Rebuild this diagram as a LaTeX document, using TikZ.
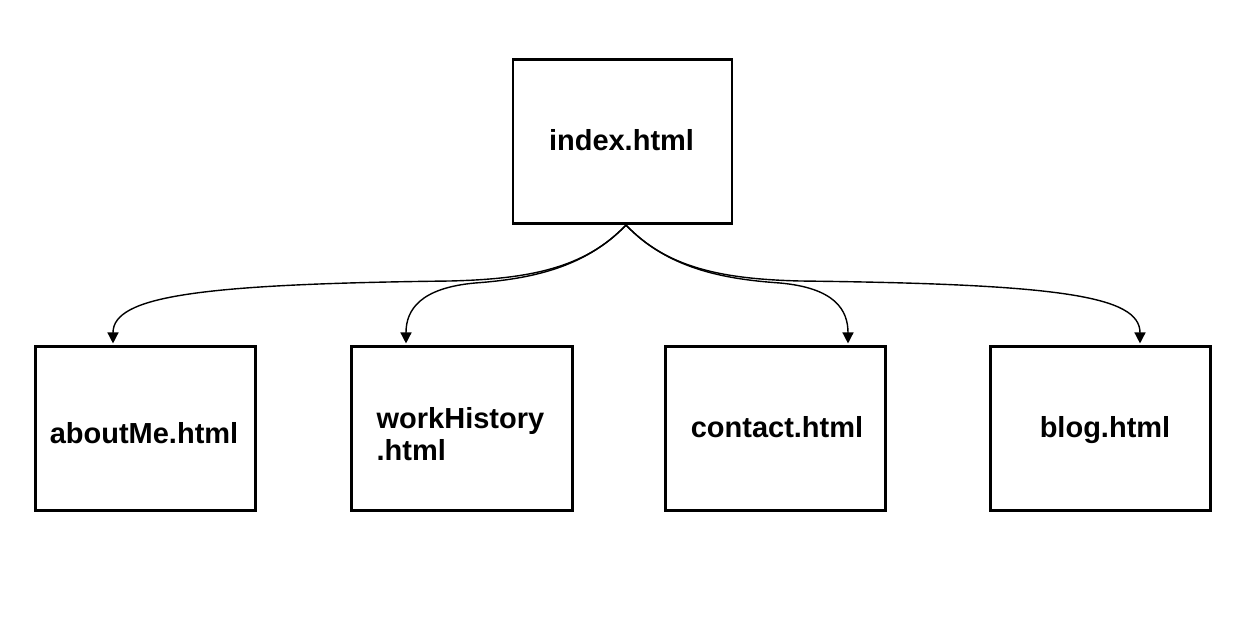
\documentclass[tikz,border=0pt]{standalone}
\usepackage{fontspec}
\setmainfont{Liberation Sans}
\usetikzlibrary{arrows.meta,calc}
\begin{document}
\begin{tikzpicture}[x=1pt,y=-1pt,
  page/.style={draw=black, line width=2.6pt, fill=white, minimum height=164.5pt, inner sep=0pt},
  lbl/.style={font=\fontsize{29}{32}\selectfont\bfseries, inner sep=0pt},
  link/.style={line width=1.4pt, -{Triangle[length=11pt,width=11pt]}}]
\useasboundingbox (0,0) rectangle (1250,637);
\fill[white] (0,0) rectangle (1250,637);
% boxes
\node[page, minimum width=219pt]   (idx) at (622.5,141.5) {};
\node[page, minimum width=220.5pt] (abt) at (145.5,428.5) {};
\node[page, minimum width=220.5pt] (wh)  at (462,428.5) {};
\node[page, minimum width=220.5pt] (con) at (775.5,428.5) {};
\node[page, minimum width=220.5pt] (blg) at (1100.5,428.5) {};
% labels
\node[lbl, anchor=base] (tidx) at ($(idx.center)+(-1,8.5)$) {index.html};
\node[lbl, anchor=base] (tabt) at ($(abt.center)+(-1.5,14.5)$) {aboutMe.html};
\node[lbl, anchor=base west] (twh1) at ($(wh.west)+(26,-0.5)$) {workHistory};
\node[lbl, anchor=base west] (twh2) at ($(wh.west)+(26,31.5)$) {.html};
\node[lbl, anchor=base] (tcon) at ($(con.center)+(1.5,8.5)$) {contact.html};
\node[lbl, anchor=base] (tblg) at ($(blg.center)+(4.5,8.5)$) {blog.html};
% connectors
\coordinate (src) at ($(idx.south)+(3.5,0)$);
\draw[link] (src) .. controls (585,268) and (530,279) .. (450,281)
   .. controls (200,284) and (113,296) .. ($(abt.north)+(-32.5,-1.5)$);
\draw[link] (src) .. controls (585,268) and (530,279) .. (475,283)
   .. controls (420,288) and (406,310) .. ($(wh.north)+(-56,-1.5)$);
\draw[link] (src) .. controls (667,268) and (722,279) .. (780,283)
   .. controls (835,288) and (848,310) .. ($(con.north)+(72.5,-1.5)$);
\draw[link] (src) .. controls (667,268) and (722,279) .. (800,281)
   .. controls (1060,284) and (1140,296) .. ($(blg.north)+(39.5,-1.5)$);
\end{tikzpicture}
\end{document}
